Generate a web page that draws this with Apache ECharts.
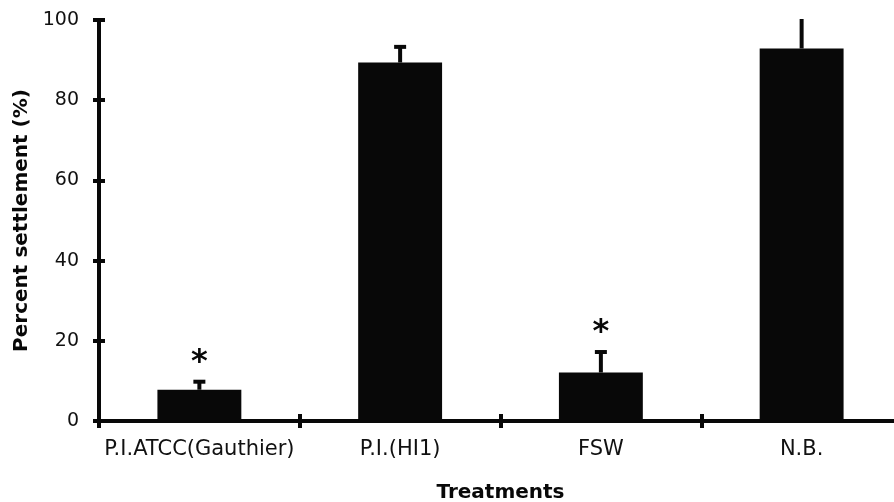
<!DOCTYPE html>
<html lang="en">
<head>
    <meta charset="utf-8">
    <title>Percent settlement</title>
    <script type="text/javascript" src="https://cdn.jsdelivr.net/npm/echarts@6/dist/echarts.min.js"></script>
    <style>
        html, body { margin: 0; padding: 0; background: #fff; }
        #chart { width: 894px; height: 502px; }
    </style>
</head>
<body>
<div id="chart"></div>
<script type="text/javascript">
    var treatments = ['P.I.ATCC(Gauthier)', 'P.I.(HI1)', 'FSW', 'N.B.'];
    var settlement = [7.8, 89.4, 12.1, 92.9];
    var errorTop = [9.8, 93.3, 17.2, 101.5];
    var marks = ['*', '', '*', ''];
    var yTicks = [0, 20, 40, 60, 80, 100];

    var font = 'DejaVu Sans';
    var ink = '#080808';

    var errorData = [];
    for (var i = 0; i < treatments.length; i++) {
        errorData.push([i, settlement[i], errorTop[i], marks[i]]);
    }

    //error bar (upper only) + significance mark
    function renderError(params, api) {
        var base = api.coord([api.value(0), api.value(1)]);
        var top = api.coord([api.value(0), api.value(2)]);
        var cs = params.coordSys;
        var children = [
            {
                type: 'line',
                shape: { x1: base[0], y1: base[1], x2: top[0], y2: top[1] },
                style: { stroke: ink, lineWidth: 4 }
            },
            {
                type: 'line',
                shape: { x1: top[0] - 6, y1: top[1], x2: top[0] + 6, y2: top[1] },
                style: { stroke: ink, lineWidth: 4 }
            }
        ];
        var mark = errorData[params.dataIndex][3];
        if (mark) {
            children.push({
                type: 'text',
                x: top[0],
                y: top[1] - 3,
                style: {
                    text: mark,
                    fill: ink,
                    font: 'bold 32px "' + font + '"',
                    align: 'center',
                    verticalAlign: 'bottom'
                }
            });
        }
        return {
            type: 'group',
            clipPath: {
                type: 'rect',
                shape: { x: cs.x, y: cs.y - 1, width: cs.width, height: cs.height + 2 }
            },
            children: children
        };
    }

    var myChart = echarts.init(document.getElementById('chart'));
    var option = {
        animation: false,
        backgroundColor: '#ffffff',
        grid: { left: 99, width: 803, top: 20, bottom: 81, outerBoundsMode: 'none', containLabel: false },
        xAxis: [
            {
                type: 'category',
                data: treatments,
                boundaryGap: true,
                axisLine: { lineStyle: { color: ink, width: 4 } },
                axisTick: { show: true, interval: 0, length: 7, lineStyle: { color: ink, width: 4 } },
                axisLabel: { interval: 0, fontFamily: font, fontSize: 21, color: '#111', margin: 18 },
                name: 'Treatments',
                nameLocation: 'middle',
                nameGap: 62,
                nameTextStyle: { fontFamily: font, fontSize: 20, fontWeight: 'bold', color: ink }
            },
            {
                type: 'category',
                data: treatments,
                position: 'bottom',
                boundaryGap: true,
                axisLine: { show: false },
                axisTick: { show: true, interval: 0, inside: true, length: 7, lineStyle: { color: ink, width: 4 } },
                axisLabel: { show: false }
            }
        ],
        yAxis: [
            {
                type: 'value',
                min: yTicks[0],
                max: yTicks[yTicks.length - 1],
                interval: yTicks[1] - yTicks[0],
                splitLine: { show: false },
                axisLine: { show: true, lineStyle: { color: ink, width: 4 } },
                axisTick: { show: true, length: 6, lineStyle: { color: ink, width: 4 } },
                axisLabel: { fontFamily: font, fontSize: 19, color: '#111', margin: 20 },
                name: 'Percent settlement (%)',
                nameLocation: 'middle',
                nameGap: 66,
                nameTextStyle: { fontFamily: font, fontSize: 20, fontWeight: 'bold', color: ink }
            },
            {
                type: 'value',
                min: yTicks[0],
                max: yTicks[yTicks.length - 1],
                interval: yTicks[1] - yTicks[0],
                position: 'left',
                splitLine: { show: false },
                axisLine: { show: false },
                axisTick: { show: true, inside: true, length: 6, lineStyle: { color: ink, width: 4 } },
                axisLabel: { show: false }
            }
        ],
        series: [
            {
                name: 'settlement',
                type: 'bar',
                data: settlement,
                barWidth: '41.8%',
                itemStyle: { color: ink }
            },
            {
                name: 'error',
                type: 'custom',
                renderItem: renderError,
                data: errorData,
                encode: { x: 0, y: [1, 2] },
                z: 3
            }
        ]
    };
    myChart.setOption(option);
</script>
</body>
</html>
